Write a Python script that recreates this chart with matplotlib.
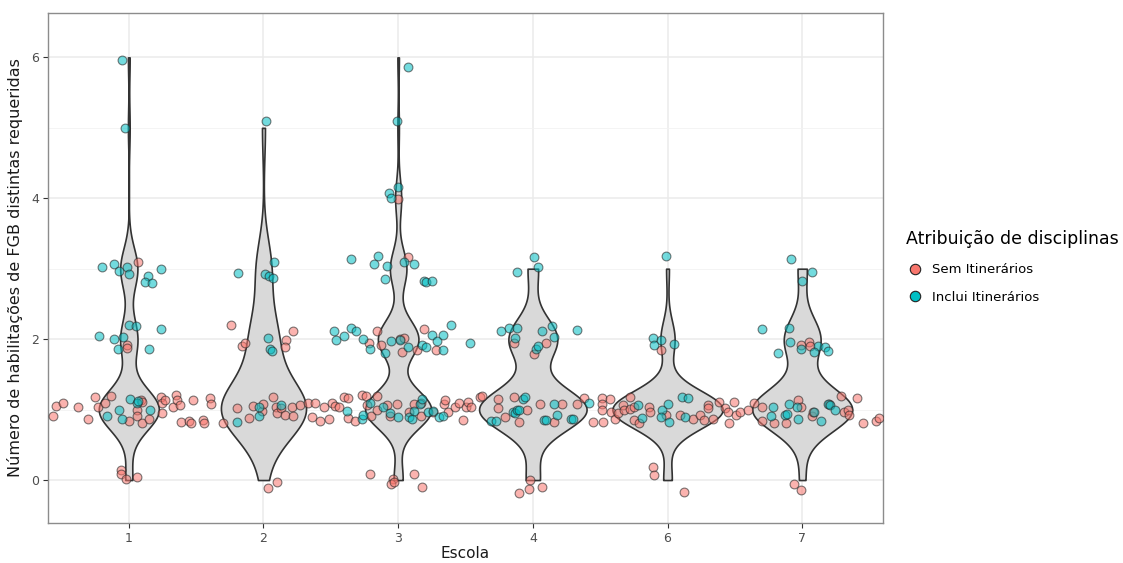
import numpy as np
import matplotlib
matplotlib.use("Agg")
import matplotlib.pyplot as plt
from matplotlib.lines import Line2D

# ---------------- data (jitter dx, observed y) ----------------
escolas = ["1", "2", "3", "4", "6", "7"]

sem_1 = [(0.07, 3.09), (-0.01, 1.91), (-0.01, 1.88),
         (-0.56, 0.91), (-0.54, 1.05), (-0.49, 1.10), (-0.38, 1.04), (-0.30, 0.86), (-0.25, 1.18),
         (-0.23, 1.04), (-0.18, 1.09), (-0.13, 1.19), (0.00, 0.84), (0.06, 0.99), (0.06, 0.91),
         (0.09, 1.14), (0.10, 1.11), (0.10, 0.81), (0.15, 0.87), (0.24, 1.18), (0.25, 1.10),
         (0.25, 0.95), (0.27, 1.14), (0.33, 1.04), (0.35, 1.20), (0.36, 1.13), (0.38, 1.06),
         (0.39, 0.83), (0.45, 0.84), (0.46, 0.81), (0.48, 1.13),
         (-0.06, 0.14), (-0.06, 0.09), (-0.02, 0.01), (0.06, 0.04)]
inc_1 = [(-0.05, 5.96), (-0.03, 5.00),
         (-0.20, 3.02), (-0.11, 3.06), (-0.07, 2.97), (-0.01, 3.02), (0.00, 2.92), (0.14, 2.89),
         (0.12, 2.81), (0.17, 2.80), (0.24, 3.00),
         (0.00, 2.20), (0.05, 2.19), (0.24, 2.15), (-0.22, 2.04), (-0.11, 2.00), (-0.04, 2.03),
         (-0.08, 1.86), (0.15, 1.86),
         (0.01, 1.15), (0.06, 1.10), (0.07, 1.12), (-0.07, 1.00), (0.16, 1.00), (-0.16, 0.91),
         (-0.05, 0.86)]

sem_2 = [(-0.24, 2.20), (-0.16, 1.90), (-0.14, 1.94), (0.22, 2.11), (0.17, 1.99), (0.16, 1.89),
         (-0.45, 0.85), (-0.44, 0.81), (-0.40, 1.16), (-0.39, 1.08), (-0.30, 0.81), (-0.20, 1.02),
         (-0.11, 0.88), (-0.08, 1.05), (-0.01, 0.98), (0.00, 1.08), (0.07, 1.18), (0.09, 1.04),
         (0.10, 0.95), (0.13, 1.02), (0.16, 0.93), (0.21, 1.04), (0.22, 0.91), (0.27, 1.06),
         (0.33, 1.09), (0.36, 0.90), (0.38, 1.09), (0.42, 0.84), (0.45, 1.03), (0.49, 0.87),
         (0.03, -0.11), (0.10, -0.03)]
inc_2 = [(0.02, 5.09), (0.08, 3.10), (-0.19, 2.94), (0.01, 2.93), (0.04, 2.90), (0.07, 2.87),
         (0.03, 2.02), (0.05, 1.86), (0.06, 1.83), (-0.20, 0.82), (-0.03, 0.91), (-0.03, 1.04),
         (0.13, 1.06)]

sem_3 = [(0.00, 3.99), (0.07, 3.16),
         (-0.16, 2.12), (-0.22, 1.94), (-0.13, 1.91), (0.01, 2.00), (0.04, 2.02), (0.03, 1.82),
         (0.14, 1.84), (0.19, 2.14), (0.28, 1.85),
         (-0.49, 1.09), (-0.47, 1.05), (-0.44, 1.03), (-0.40, 1.18), (-0.37, 1.17), (-0.37, 0.88),
         (-0.32, 0.84), (-0.27, 1.20), (-0.24, 1.19), (-0.23, 1.06), (-0.16, 1.19), (-0.20, 0.91),
         (-0.16, 1.00), (-0.08, 1.06), (-0.06, 0.91), (-0.01, 1.08), (0.12, 1.08), (0.08, 0.96),
         (0.17, 1.09), (0.17, 0.91), (0.26, 0.96), (0.34, 1.08), (0.35, 1.14), (0.37, 0.97),
         (0.42, 1.04), (0.45, 1.10), (0.48, 0.85), (0.50, 1.04),
         (-0.21, 0.08), (-0.04, 0.01), (-0.05, -0.06), (-0.03, -0.03), (0.12, 0.08), (0.18, -0.10)]
inc_3 = [(0.07, 5.86), (-0.01, 5.09), (0.00, 4.16), (-0.07, 4.07), (-0.05, 4.01),
         (-0.35, 3.14), (-0.15, 3.18), (-0.18, 3.07), (-0.08, 3.04), (0.04, 3.10), (0.12, 3.07),
         (-0.10, 2.86), (0.19, 2.82), (0.21, 2.81), (0.25, 2.82),
         (-0.48, 2.12), (-0.46, 1.99), (-0.40, 2.04), (-0.35, 2.16), (-0.31, 2.11), (-0.26, 2.00),
         (-0.21, 1.86), (-0.10, 1.81), (-0.05, 1.98), (0.01, 1.99), (0.07, 1.89), (0.18, 1.91),
         (0.21, 1.89), (0.25, 2.06), (0.29, 1.98), (0.33, 2.06), (0.39, 2.20), (0.33, 1.84),
         (-0.38, 0.98), (-0.27, 0.87), (-0.26, 0.93), (-0.21, 1.10), (-0.11, 1.04), (-0.06, 0.95),
         (0.00, 0.90), (0.08, 0.89), (0.10, 0.87), (0.12, 0.98), (0.16, 1.08), (0.18, 1.15),
         (0.22, 0.96), (0.26, 0.98), (0.30, 0.90), (0.33, 0.91)]

sem_4 = [(-0.14, 1.94), (0.01, 1.79), (0.10, 1.94),
         (-0.48, 1.11), (-0.46, 1.04), (-0.39, 1.18), (-0.38, 1.19), (-0.26, 1.15), (-0.26, 1.02),
         (-0.21, 0.90), (-0.14, 1.18), (-0.10, 0.82), (-0.04, 0.99), (0.05, 1.08), (0.16, 0.82),
         (0.22, 1.08), (0.33, 1.08), (0.38, 1.16), (0.45, 0.83),
         (-0.02, 0.00), (-0.03, -0.13), (-0.10, -0.19), (0.07, -0.10)]
inc_4 = [(0.01, 3.17), (0.04, 3.02), (-0.12, 2.96),
         (-0.47, 1.95), (-0.24, 2.11), (-0.18, 2.16), (-0.12, 2.16), (-0.13, 2.02), (0.07, 2.12),
         (0.14, 2.18), (0.16, 2.03), (0.33, 2.13), (0.02, 1.86), (0.04, 1.90),
         (-0.31, 0.84), (-0.27, 0.84), (-0.15, 0.97), (-0.13, 0.95), (-0.12, 1.00), (-0.10, 0.99),
         (-0.07, 1.15), (-0.06, 1.18), (0.08, 0.85), (0.10, 0.85), (0.16, 1.08), (0.18, 0.93),
         (0.28, 0.87), (0.30, 0.87), (0.42, 1.10)]

sem_6 = [(-0.05, 1.84),
         (-0.48, 0.82), (-0.49, 1.16), (-0.49, 1.08), (-0.49, 0.99), (-0.43, 1.15), (-0.42, 0.97),
         (-0.39, 0.87), (-0.37, 0.95), (-0.33, 1.06), (-0.32, 0.99), (-0.28, 1.18), (-0.28, 1.01),
         (-0.25, 1.04), (-0.25, 0.85), (-0.21, 0.81), (-0.14, 1.03), (-0.13, 0.96), (-0.01, 0.92),
         (0.09, 0.92), (0.19, 0.86), (0.24, 0.92), (0.27, 0.85), (0.30, 1.07), (0.30, 1.02),
         (0.34, 0.86), (0.38, 1.11), (0.43, 1.02), (0.45, 0.97), (0.46, 0.81), (0.49, 1.11),
         (-0.11, 0.19), (-0.10, 0.07), (0.12, -0.17)]
inc_6 = [(-0.01, 3.18), (-0.11, 2.02), (-0.10, 1.91), (-0.05, 1.99), (0.05, 1.93),
         (-0.22, 1.06), (-0.19, 0.88), (-0.04, 0.99), (-0.05, 0.90), (0.00, 1.08), (0.01, 0.83),
         (0.11, 1.18), (0.15, 1.16), (0.13, 0.90)]

sem_7 = [(-0.01, 1.92), (0.05, 1.96), (0.06, 1.90),
         (-0.49, 0.92), (-0.46, 0.96), (-0.40, 0.99), (-0.36, 1.09), (-0.30, 1.04), (-0.30, 0.84),
         (-0.21, 0.81), (-0.12, 0.81), (-0.03, 1.14), (-0.01, 1.04), (0.07, 0.91), (0.08, 0.96),
         (0.20, 1.08), (0.29, 1.19), (0.31, 0.96), (0.34, 1.00), (0.35, 0.92), (0.41, 1.16),
         (0.45, 0.81), (0.55, 0.84), (0.57, 0.88),
         (-0.06, -0.06), (-0.01, -0.14)]
inc_7 = [(-0.08, 3.14), (0.07, 2.95), (0.00, 2.83),
         (-0.30, 2.15), (-0.10, 2.16), (-0.09, 1.96), (-0.18, 1.80), (-0.01, 1.86), (0.12, 1.90),
         (0.09, 1.82), (0.17, 1.89), (0.19, 1.83),
         (-0.22, 1.04), (-0.23, 0.91), (-0.13, 0.92), (-0.11, 0.94), (-0.10, 1.08), (-0.03, 0.87),
         (-0.04, 1.03), (0.09, 0.97), (0.19, 1.08), (0.21, 1.06), (0.24, 1.00), (0.14, 0.84)]

sem_all = [sem_1, sem_2, sem_3, sem_4, sem_6, sem_7]
inc_all = [inc_1, inc_2, inc_3, inc_4, inc_6, inc_7]

grupos = ["Sem Itinerários", "Inclui Itinerários"]
cores = ["#F8766D", "#00BFC4"]

# ---------------- style ----------------
violin_halfwidth = [0.223, 0.316, 0.245, 0.399, 0.409, 0.371]
violin_adjust = [1.0, 1.35, 1.0, 1.05, 1.3, 1.15]


def bw_nrd0(x):
    x = np.asarray(x, float)
    hi = np.std(x, ddof=1)
    q75, q25 = np.percentile(x, [75, 25])
    lo = min(hi, (q75 - q25) / 1.34)
    if lo == 0:
        lo = hi if hi > 0 else 1.0
    return 0.9 * lo * len(x) ** (-0.2)


W, H = 1123, 563
fig = plt.figure(figsize=(W / 100, H / 100), dpi=100)
ax = fig.add_axes([48 / W, 1 - 523 / H, (883 - 48) / W, (523 - 13) / H])

positions = np.arange(1, len(escolas) + 1)

for i, pos in enumerate(positions):
    vals = np.array([round(y) for _, y in sem_all[i]] + [round(y) for _, y in inc_all[i]], float)
    bw = bw_nrd0(vals) * violin_adjust[i]
    yy = np.linspace(vals.min(), vals.max(), 512)
    dens = np.exp(-0.5 * ((yy[:, None] - vals[None, :]) / bw) ** 2).sum(axis=1)
    dens = dens / dens.max() * violin_halfwidth[i]
    ax.fill_betweenx(yy, pos - dens, pos + dens, facecolor="#D9D9D9",
                     edgecolor="#333333", linewidth=1.2, zorder=2)

for g, data in enumerate([sem_all, inc_all]):
    for i, pos in enumerate(positions):
        xs = [pos + dx for dx, _ in data[i]]
        ys = [y for _, y in data[i]]
        ax.scatter(xs, ys, s=40,
                   facecolors=[matplotlib.colors.to_rgba(cores[g], 0.55)],
                   edgecolors=[(0.15, 0.15, 0.15, 0.6)], linewidths=0.8, zorder=3)

ax.set_xlim(0.4, 6.6)
ax.set_ylim(-0.61, 6.63)
ax.set_xticks(positions)
ax.set_xticklabels(escolas)
ax.set_yticks([0, 2, 4, 6])
ax.set_yticks([1, 3, 5], minor=True)
ax.grid(True, which="major", color="#EBEBEB", linewidth=1.1, zorder=0)
ax.grid(True, which="minor", axis="y", color="#F2F2F2", linewidth=0.6, zorder=0)
ax.set_axisbelow(True)
ax.tick_params(which="major", length=3.5, width=0.8, color="#333333",
               labelsize=9, labelcolor="#4D4D4D", pad=3)
ax.tick_params(which="minor", length=0)
for sp in ax.spines.values():
    sp.set_color("#8C8C8C")
    sp.set_linewidth(1.0)

ax.set_xlabel("Escola", fontsize=11, color="#1a1a1a", labelpad=1)
ax.set_ylabel("Número de habilitações de FGB distintas requeridas", fontsize=11.5,
              color="#1a1a1a", labelpad=6)

handles = [Line2D([], [], marker="o", linestyle="", markersize=7.5, markerfacecolor=c,
                  markeredgecolor="#222222", markeredgewidth=0.8) for c in cores]
leg = fig.legend(handles, grupos, title="Atribuição de disciplinas",
                 loc="upper left", bbox_to_anchor=(906 / W, 1 - 230 / H),
                 frameon=False, fontsize=9.5, title_fontsize=12.5,
                 handletextpad=0.7, labelspacing=1.1, handlelength=1.3,
                 borderaxespad=0, borderpad=0)
leg._legend_box.align = "left"
leg._legend_box.sep = 11

fig.savefig("out.png", dpi=100)
